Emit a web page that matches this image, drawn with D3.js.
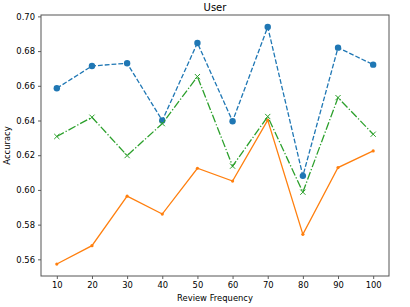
<!DOCTYPE html>
<html>
<head>
<meta charset="utf-8">
<script src="https://cdn.jsdelivr.net/npm/d3@7"></script>
<style>
  body { margin: 0; background: #fff; }
  text { font-family: "DejaVu Sans", sans-serif; fill: #000; }
</style>
</head>
<body>
<div id="chart"></div>
<script>
// data
var frequencies = [10, 20, 30, 40, 50, 60, 70, 80, 90, 100];
var blueValues = [0.6586, 0.6714, 0.6730, 0.6400, 0.6847, 0.6396, 0.6939, 0.6081, 0.6820, 0.6722];
var greenValues = [0.6308, 0.6419, 0.6198, 0.6382, 0.6653, 0.6137, 0.6423, 0.5987, 0.6532, 0.6321];
var orangeValues = [0.5573, 0.5679, 0.5964, 0.5861, 0.6125, 0.6051, 0.6402, 0.5744, 0.6129, 0.6225];
var yTicks = [0.56, 0.58, 0.60, 0.62, 0.64, 0.66, 0.68, 0.70];

var width = 410;
var height = 307;
var margin = { top: 15, right: 21, bottom: 31, left: 41 }; // plot box 41..389 x 15..276

var svg = d3.select('#chart')
  .append('svg')
  .attr('width', width)
  .attr('height', height);

var x = d3.scaleLinear()
  .domain([5.5, 104.5])
  .range([margin.left, width - margin.right]);

var y = d3.scaleLinear()
  .domain([0.5504, 0.7008])
  .range([height - margin.bottom, margin.top]);

var lw = 1.3;

// axes
var xAxis = svg.append('g')
  .attr('transform', 'translate(0,' + (height - margin.bottom) + ')')
  .call(d3.axisBottom(x).tickValues(frequencies).tickSize(3).tickPadding(3));

var yAxis = svg.append('g')
  .attr('transform', 'translate(' + margin.left + ',0)')
  .call(d3.axisLeft(y).tickValues(yTicks).tickFormat(d3.format('.2f')).tickSize(3).tickPadding(3));

[xAxis, yAxis].forEach(function(a) {
  a.select('.domain').remove();
  a.selectAll('.tick line').attr('stroke', '#333').attr('stroke-width', 0.8);
  a.selectAll('.tick text').style('font-size', '8.4px').style('font-family', '"DejaVu Sans", sans-serif').attr('fill', '#000');
});

// frame
svg.append('rect')
  .attr('x', margin.left)
  .attr('y', margin.top)
  .attr('width', width - margin.left - margin.right)
  .attr('height', height - margin.top - margin.bottom)
  .attr('fill', 'none')
  .attr('stroke', '#555')
  .attr('stroke-width', 1);

var series = [
  { values: blueValues, color: '#1f77b4', dash: '4.8,2', marker: 'circle' },
  { values: orangeValues, color: '#ff7f0e', dash: null, marker: 'point' },
  { values: greenValues, color: '#2ca02c', dash: '8,2,1.3,2', marker: 'x' }
];

var line = d3.line()
  .x(function(d, i) { return x(frequencies[i]); })
  .y(function(d) { return y(d); });

series.forEach(function(s) {
  svg.append('path')
    .datum(s.values)
    .attr('d', line)
    .attr('fill', 'none')
    .attr('stroke', s.color)
    .attr('stroke-width', lw)
    .attr('stroke-dasharray', s.dash);

  var g = svg.append('g');
  if (s.marker === 'circle' || s.marker === 'point') {
    g.selectAll('circle')
      .data(s.values)
      .enter()
      .append('circle')
      .attr('cx', function(d, i) { return x(frequencies[i]); })
      .attr('cy', function(d) { return y(d); })
      .attr('r', s.marker === 'circle' ? 3.2 : 1.6)
      .attr('fill', s.color);
  } else {
    var r = 2.6;
    g.selectAll('path')
      .data(s.values)
      .enter()
      .append('path')
      .attr('d', function(d, i) {
        var cx = x(frequencies[i]), cy = y(d);
        return 'M' + (cx - r) + ',' + (cy - r) + 'L' + (cx + r) + ',' + (cy + r) +
               'M' + (cx - r) + ',' + (cy + r) + 'L' + (cx + r) + ',' + (cy - r);
      })
      .attr('stroke', s.color)
      .attr('stroke-width', 1)
      .attr('fill', 'none');
  }
});

// title and labels
svg.append('text')
  .attr('x', (margin.left + width - margin.right) / 2)
  .attr('y', 10.5)
  .attr('text-anchor', 'middle')
  .style('font-size', '10px')
  .text('User');

svg.append('text')
  .attr('x', (margin.left + width - margin.right) / 2)
  .attr('y', 301)
  .attr('text-anchor', 'middle')
  .style('font-size', '8.4px')
  .text('Review Frequency');

svg.append('text')
  .attr('transform', 'translate(10,' + ((margin.top + height - margin.bottom) / 2) + ') rotate(-90)')
  .attr('text-anchor', 'middle')
  .style('font-size', '8.4px')
  .text('Accuracy');
</script>
</body>
</html>
